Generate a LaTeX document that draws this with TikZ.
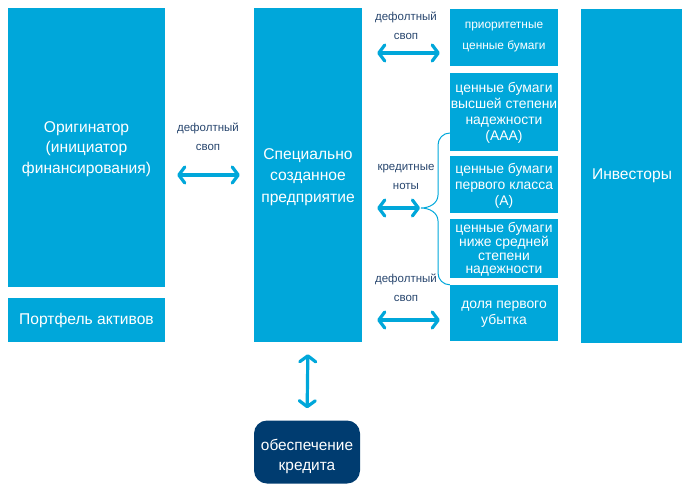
\documentclass[tikz,border=0pt]{standalone}
\usepackage{fontspec}
\setmainfont{Liberation Sans}
\usetikzlibrary{arrows.meta}
\definecolor{cyanbox}{RGB}{0,167,218}
\definecolor{navybox}{RGB}{0,60,112}
\definecolor{labtext}{RGB}{40,70,110}
\tikzset{
  box/.style={fill=cyanbox, draw=none, inner sep=0pt},
  btext/.style={text=white, align=center, inner sep=0pt, font=\fontsize{15.6}{20.3}\selectfont},
  stext/.style={text=white, align=center, inner sep=0pt, font=\fontsize{13.9}{15.8}\selectfont},
  ptext/.style={text=white, align=center, inner sep=0pt, font=\fontsize{11.9}{21}\selectfont},
  lab/.style={text=labtext, align=center, inner sep=0pt, font=\fontsize{11.5}{18.5}\selectfont},
  dbl/.style={draw=cyanbox, line width=3.2pt, line cap=round,
    {Straight Barb[length=6pt,width=16pt,line cap=round,line join=round]}-{Straight Barb[length=6pt,width=16pt,line cap=round,line join=round]}},
  bracel/.style={draw=cyanbox, line width=1pt}
}
\begin{document}
\begin{tikzpicture}[x=1pt,y=-1pt]
\useasboundingbox (0,0) rectangle (682,485);
% boxes
\node[box, minimum width=157pt, minimum height=279pt] (orig) at (86.5,147.5) {};
\node[btext] (origt) at (86.5,149) {Оригинатор\\(инициатор\\финансирования)};
\node[box, minimum width=157pt, minimum height=44pt] (port) at (86.5,320) {};
\node[btext] at (port.center) {Портфель активов};
\node[box, minimum width=108pt, minimum height=334pt] (spv) at (308,175) {};
\node[btext, font=\fontsize{15.6}{21.5}\selectfont] at (308,177) {Специально\\созданное\\предприятие};
\node[box, minimum width=108pt, minimum height=57pt] (prio) at (504,37.5) {};
\node[ptext] at (504,37.5) {приоритетные\\ценные бумаги};
\node[box, minimum width=108pt, minimum height=78pt] (aaa) at (504,112) {};
\node[stext] at (504,113) {ценные бумаги\\высшей степени\\надежности\\(AAA)};
\node[box, minimum width=108pt, minimum height=57pt] (acls) at (504,184.5) {};
\node[stext] at (504,186) {ценные бумаги\\первого класса\\(A)};
\node[box, minimum width=108pt, minimum height=59pt] (low) at (504,248.5) {};
\node[stext, font=\fontsize{13.9}{13.8}\selectfont] at (504,249.5) {ценные бумаги\\ниже средней\\степени\\надежности};
\node[box, minimum width=108pt, minimum height=56pt] (loss) at (504,313) {};
\node[stext] at (504,314) {доля первого\\убытка};
\node[box, minimum width=101pt, minimum height=334pt] (inv) at (631.5,175.5) {};
\node[btext] at (632,176) {Инвесторы};
\node[fill=navybox, rounded corners=13pt, minimum width=106pt, minimum height=63pt, inner sep=0pt] (sec) at (307,452) {};
\node[btext, font=\fontsize{15.4}{20}\selectfont] at (307,456) {обеспечение\\кредита};
% labels
\node[lab] at (208,137) {дефолтный\\своп};
\node[lab] at (406,26) {дефолтный\\своп};
\node[lab] at (406,177) {кредитные\\ноты};
\node[lab] at (406,288) {дефолтный\\своп};
% brace
\coordinate (bt) at (421,208);
\draw[bracel] (aaa.west |- 0,133) to[out=180,in=90] (438,145) -- (438,195)
  to[out=-90,in=0] (bt) to[out=0,in=90] (438,221) -- (438,273)
  to[out=-90,in=180] (loss.north west);
% arrows
\draw[dbl, shorten <=12pt, shorten >=14pt] (orig.east |- spv.center) -- (spv.west |- spv.center);
\draw[dbl, shorten <=15pt, shorten >=10pt] (spv.east |- 0,53) -- (prio.west |- 0,53);
\draw[dbl, shorten <=15pt, shorten >=1pt] (spv.east |- bt) -- (bt);
\draw[dbl, shorten <=15pt, shorten >=10pt] (spv.east |- 0,320) -- (loss.west |- 0,320);
\draw[dbl, shorten <=12pt, shorten >=12pt] (spv.south) -- (sec.north);
\end{tikzpicture}
\end{document}
